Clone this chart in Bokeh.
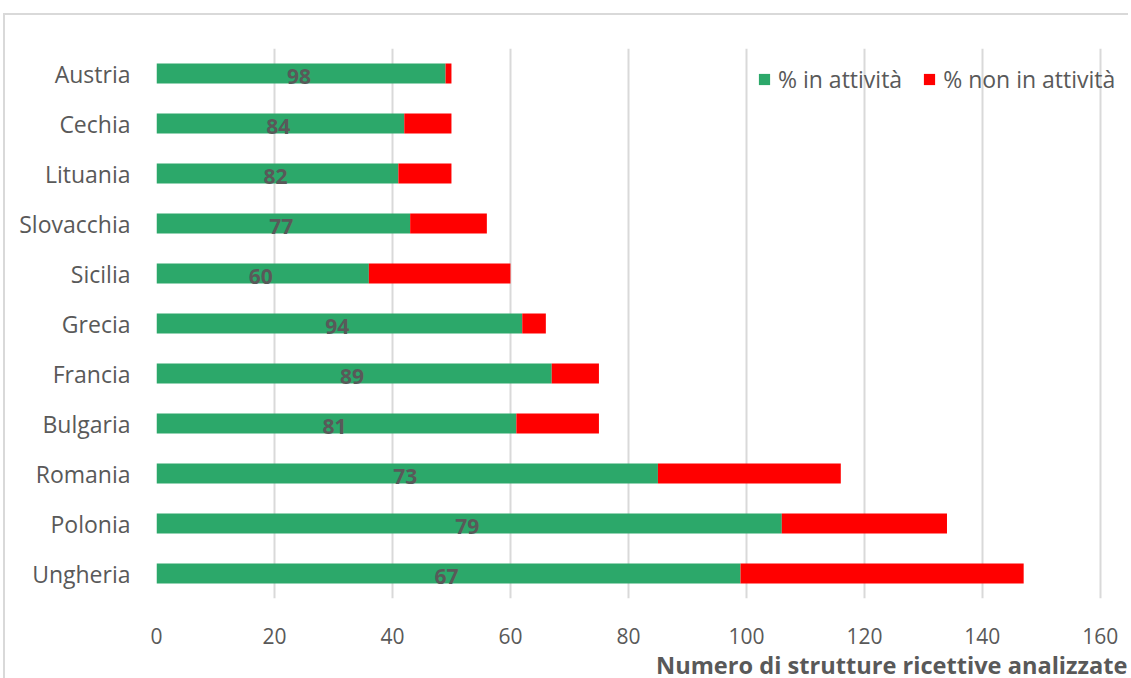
from bokeh.plotting import figure
from bokeh.models import FactorRange, Legend, LegendItem, ColumnDataSource, LabelSet, Title, FixedTicker
from bokeh.core.properties import value
from bokeh.embed import file_html
from bokeh.resources import INLINE

countries = ["Austria", "Cechia", "Lituania", "Slovacchia", "Sicilia", "Grecia",
             "Francia", "Bulgaria", "Romania", "Polonia", "Ungheria"]
in_attivita = [49, 42, 41, 43, 36, 62, 67, 61, 85, 106, 99]
non_attivita = [1, 8, 9, 13, 24, 4, 8, 14, 31, 28, 48]
pct_labels = ["98", "84", "82", "77", "60", "94", "89", "81", "73", "79", "67"]
x_ticks = [0, 20, 40, 60, 80, 100, 120, 140, 160]

GREEN = "#2ca86a"
RED = "#ff0000"
GRAY = "#595959"
FONT = "Open Sans"

src = ColumnDataSource(dict(
    country=countries,
    ina=in_attivita,
    non=non_attivita,
    lab=pct_labels,
    mid=[v / 2 for v in in_attivita],
))

p = figure(width=1123, height=663, output_backend="svg", toolbar_location=None,
           y_range=FactorRange(factors=list(reversed(countries))),
           x_range=(0, 164.6),
           min_border_left=151, min_border_right=3, min_border_top=33, min_border_bottom=79)
p.margin = (13, 0, 0, 3)
p.styles = {"border-top": "2px solid #d9d9d9", "border-left": "2px solid #d9d9d9",
            "box-sizing": "content-box"}

r = p.hbar_stack(["ina", "non"], y="country", height=0.4, color=[GREEN, RED],
                 line_color=None, source=src)

p.add_layout(LabelSet(x="mid", y="country", text="lab", source=src,
                      text_align="center", text_baseline="middle", y_offset=-3, x_offset=-2,
                      text_font=value(FONT), text_font_style="bold", text_font_size="21px",
                      text_color=GRAY))

p.outline_line_color = None
p.ygrid.grid_line_color = None
p.xgrid.grid_line_color = "#d9d9d9"
p.xgrid.grid_line_width = 2
p.xaxis.ticker = FixedTicker(ticks=x_ticks)
for ax in (p.xaxis[0], p.yaxis[0]):
    ax.axis_line_color = None
    ax.major_tick_line_color = None
    ax.minor_tick_line_color = None
    ax.major_label_text_font = FONT
    ax.major_label_text_color = GRAY
p.xaxis.major_label_text_font_size = "21px"
p.yaxis.major_label_text_font_size = "23px"
p.xaxis.major_label_standoff = 23
p.yaxis.major_label_standoff = 20

t = Title(text="Numero di strutture ricettive analizzate", align="right",
          text_font=FONT, text_font_size="23.6px", text_font_style="bold",
          text_color=GRAY, offset=0, standoff=0)
p.add_layout(t, "below")

legend = Legend(items=[LegendItem(label="% in attività", renderers=[r[0]]),
                       LegendItem(label="% non in attività", renderers=[r[1]])],
                orientation="horizontal", location=(601, 503),
                label_text_font=FONT, label_text_font_size="23px", label_text_color=GRAY,
                glyph_width=14, glyph_height=14, spacing=20, label_standoff=7,
                border_line_color=None, background_fill_alpha=0, margin=0, padding=0)
p.add_layout(legend)

open("out.html", "w").write(file_html(p, INLINE))
